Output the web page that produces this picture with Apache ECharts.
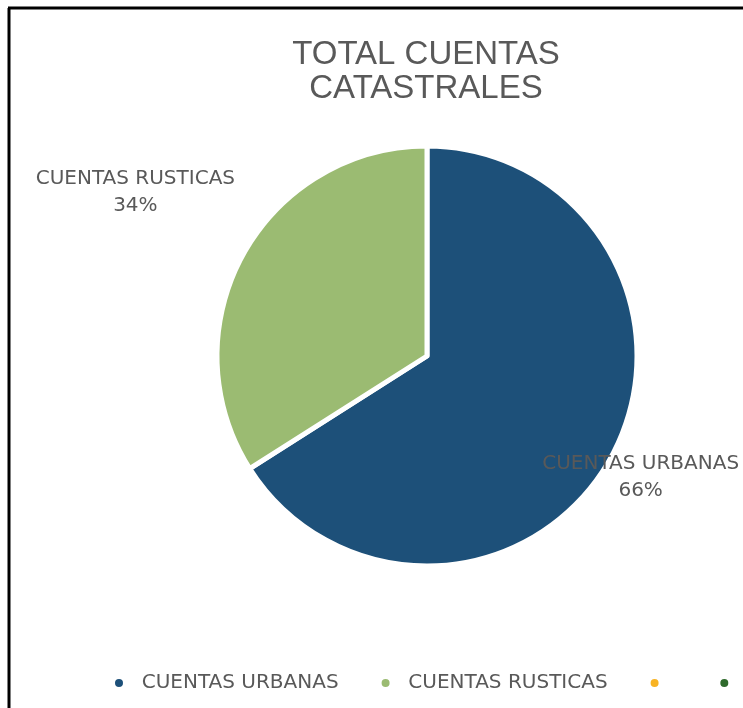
<!DOCTYPE html>
<html>
<head>
<meta charset="utf-8">
<style>
  html, body { margin: 0; padding: 0; background: #fff; }
  #chart { width: 743px; height: 708px; }
</style>
<script src="https://cdn.jsdelivr.net/npm/echarts@6/dist/echarts.min.js"></script>
</head>
<body>
<div id="chart"></div>
<script>
const TITLE = 'TOTAL CUENTAS\nCATASTRALES';
const categories = ['CUENTAS URBANAS', 'CUENTAS RUSTICAS', ' ', '  '];
const values = [66, 34, '-', '-'];
const colors = ['#1d5079', '#9bbb72', '#f8b323', '#2f6a2c'];

// label offsets from the inside anchor (only the two real slices have labels)
const labelShift = [[119, 69], [-197, -112]];

const FONT = '"DejaVu Sans", "Noto Sans", sans-serif';

const chart = echarts.init(document.getElementById('chart'));

chart.setOption({
  backgroundColor: '#fff',
  animation: false,
  title: {
    text: TITLE,
    left: 421,
    top: 33,
    textAlign: 'center',
    textStyle: {
      fontFamily: '"Liberation Sans", Arial, sans-serif',
      fontSize: 33,
      fontWeight: 'normal',
      color: '#595959',
      lineHeight: 34,
    },
  },
  legend: {
    bottom: 10,
    left: 108,
    width: 700,
    icon: 'circle',
    itemWidth: 10,
    itemHeight: 10,
    itemGap: 41,
    data: categories,
    formatter: (n) => (n.trim() ? '  ' + n : '  '),
    textStyle: {
      fontFamily: FONT,
      fontSize: 20,
      color: '#595959',
    },
  },
  graphic: [
    { type: 'line', shape: { x1: 9, y1: 8, x2: 9, y2: 708 }, style: { stroke: '#000', lineWidth: 3 } },
    { type: 'line', shape: { x1: 8, y1: 8, x2: 743, y2: 8 }, style: { stroke: '#000', lineWidth: 3 } },
  ],
  series: [{
    type: 'pie',
    center: [427, 356],
    radius: 210,
    startAngle: 90,
    clockwise: true,
    avoidLabelOverlap: false,
    itemStyle: { borderColor: '#fff', borderWidth: 5 },
    label: {
      show: true,
      position: 'inside',
      formatter: '{b}\n{d}%',
      fontFamily: FONT,
      fontSize: 20,
      lineHeight: 27,
      color: '#595959',
      align: 'center',
    },
    labelLine: { show: false },
    labelLayout: (p) => {
      const s = labelShift[p.dataIndex];
      return s ? { dx: s[0], dy: s[1] } : {};
    },
    data: categories.map((name, i) => ({
      name,
      value: values[i],
      itemStyle: { color: colors[i] },
      label: { show: i < 2 },
    })),
  }],
});
</script>
</body>
</html>
